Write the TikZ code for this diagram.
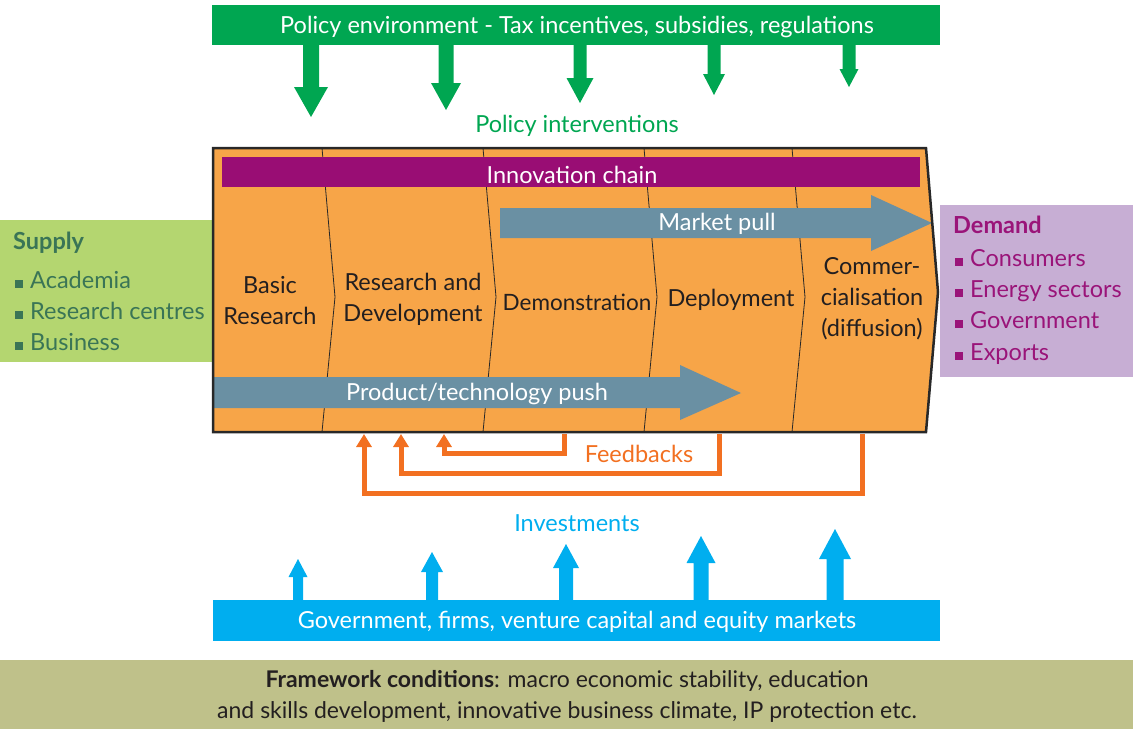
\documentclass[tikz,border=0pt]{standalone}
\usepackage{fontspec}
\setmainfont{Lato}
\usepackage{xcolor}
\usepackage{tikz}
\usetikzlibrary{arrows.meta}
\definecolor{policygreen}{RGB}{0,166,81}
\definecolor{chainorange}{RGB}{247,165,72}
\definecolor{chainpurple}{RGB}{153,13,116}
\definecolor{pullblue}{RGB}{106,144,163}
\definecolor{supplygreen}{RGB}{180,214,112}
\definecolor{supplytext}{RGB}{58,117,86}
\definecolor{demandlilac}{RGB}{199,174,212}
\definecolor{demandtext}{RGB}{154,20,121}
\definecolor{feedorange}{RGB}{242,112,33}
\definecolor{investcyan}{RGB}{0,174,239}
\definecolor{frameolive}{RGB}{191,193,138}
\definecolor{stagetext}{RGB}{35,31,32}
\definecolor{boxline}{RGB}{40,40,40}
% x / half shaft / half head / head base / tip
\def\policyarrows{311/8/17/87/117, 446/7.5/15/83/110, 580/6.5/13.5/78/103, 714/6.5/11/74/95, 849/6.5/9.5/69/87}
\def\investarrows{298/5/9.5/577/559, 432/6/11/572/552, 566/7/13/568/544, 701/7.5/14.5/563/536, 835/8.5/16/559/529}
\def\dividers{322,483,644,792}
\tikzstyle{every node}=[font=\fontsize{23.5}{31}\selectfont, inner sep=0pt]
\tikzstyle{whitetext}=[text=white]
\tikzstyle{stage}=[text=stagetext, align=center]
\tikzstyle{listitem}=[anchor=base west]
\tikzstyle{feedback}=[draw=feedorange, line width=5pt, -{Triangle[width=15pt,length=13pt]}]

\begin{document}
\begin{tikzpicture}[x=1pt, y=-1pt]
\useasboundingbox (0,0) rectangle (1133,729);

% policy environment on top
\fill[policygreen] (212,5) rectangle (940,45);
\node[whitetext] (policy) at (577,27) {Policy environment - Tax incentives, subsidies, regulations};
\foreach \px/\sw/\hw/\hb/\tip in \policyarrows {
  \fill[policygreen] (\px-\sw,45) -- (\px-\sw,\hb) -- (\px-\hw,\hb) -- (\px,\tip)
    -- (\px+\hw,\hb) -- (\px+\sw,\hb) -- (\px+\sw,45) -- cycle;
}
\node[text=policygreen] (interventions) at (577,126) {Policy interventions};

% supply and demand
\fill[supplygreen] (0,220) rectangle (212,362);
\node[listitem, text=supplytext, font=\fontsize{23.5}{31}\selectfont\bfseries] (supply) at (13,249) {Supply};
\foreach \y/\name [count=\i] in {280/Academia, 311/Research centres, 342/Business} {
  \node[listitem, text=supplytext] (supply\i) at (15,\y+8) {\rule{8pt}{8pt}\hspace{7pt}\name};
}
\fill[demandlilac] (940,205) rectangle (1133,377);
\node[listitem, text=demandtext, font=\fontsize{23.5}{31}\selectfont\bfseries] (demand) at (953,233) {Demand};
\foreach \y/\name [count=\i] in {258/Consumers, 289/Energy sectors, 320/Government, 352/Exports} {
  \node[listitem, text=demandtext] (demand\i) at (955,\y+8) {\rule{8pt}{8pt}\hspace{7pt}\name};
}

% innovation chain
\fill[chainorange] (213,148) -- (926,148) -- (938,292) -- (926,432) -- (213,432) -- cycle;
\foreach \x in \dividers {
  \draw[boxline, line width=0.8pt] (\x,148) -- (\x+13,297) -- (\x,432);
}
\fill[chainpurple] (222,157) rectangle (920,187);
\node[whitetext] (chain) at (572,175) {Innovation chain};
\fill[pullblue] (500,208) -- (871,208) -- (871,195) -- (932,223) -- (871,251) -- (871,238) -- (500,238) -- cycle;
\node[whitetext] (pull) at (717,224) {Market pull};
\fill[pullblue] (213,377) -- (680,377) -- (680,365) -- (741,393) -- (680,420) -- (680,408) -- (213,408) -- cycle;
\node[whitetext] (push) at (477,394) {Product/technology push};
\draw[boxline, line width=2.5pt] (213,148) -- (926,148) -- (938,292) -- (926,432) -- (213,432) -- cycle;

\node[stage] (basic) at (270,301) {Basic\\Research};
\node[stage] (rnd) at (413,299) {Research and\\Development};
\node[stage, font=\fontsize{22.5}{31}\selectfont] (demo) at (577,302) {Demonstration};
\node[stage] (deploy) at (731,300) {Deployment};
\node[stage] (commer) at (872,299) {Commer-\\cialisation\\(diffusion)};

% feedbacks
\coordinate (demoout) at (564,434);
\coordinate (deployout) at (719,434);
\coordinate (commerout) at (862,434);
\coordinate (demoin) at (444,434);
\coordinate (rndin) at (401,434);
\coordinate (basicin) at (364,434);
\draw[feedback] (demoout) -- ++(0,19) -| (demoin);
\draw[feedback] (deployout) -- ++(0,39) -| (rndin);
\draw[feedback] (commerout) -- ++(0,59) -| (basicin);
\node[text=feedorange] (feedbacks) at (639,454) {Feedbacks};

% investments
\node[text=investcyan] (investments) at (577,523) {Investments};
\foreach \px/\sw/\hw/\hb/\tip in \investarrows {
  \fill[investcyan] (\px-\sw,600) -- (\px-\sw,\hb) -- (\px-\hw,\hb) -- (\px,\tip)
    -- (\px+\hw,\hb) -- (\px+\sw,\hb) -- (\px+\sw,600) -- cycle;
}
\fill[investcyan] (213,600) rectangle (940,641);
\node[whitetext] (markets) at (577,622) {Government, firms, venture capital and equity markets};

% framework conditions
\fill[frameolive] (0,660) rectangle (1133,729);
\node[stage, font=\fontsize{23}{31}\selectfont] (framework) at (567,696)
  {\textbf{Framework conditions}: macro economic stability, education\\and skills development, innovative business climate, IP protection etc.};

\end{tikzpicture}
\end{document}
